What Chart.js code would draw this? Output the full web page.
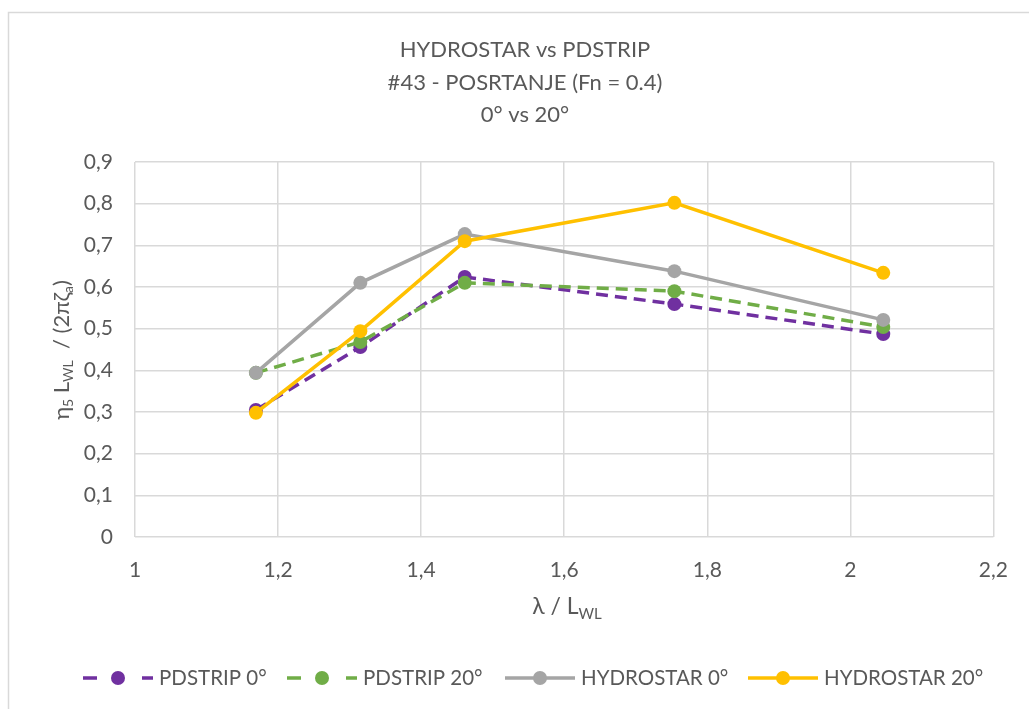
<!DOCTYPE html>
<html lang="hr">
<head>
  <meta charset="UTF-8" />
  <title>HYDROSTAR vs PDSTRIP</title>
  <script src="https://cdn.jsdelivr.net/npm/chart.js"></script>
  <style>
    html, body {
      margin: 0;
      padding: 0;
      background-color: #ffffff;
      width: 100%;
      height: 100%;
    }
    #chart-container {
      position: relative;
      width: 1029px;
      height: 709px;
    }
  </style>
</head>
<body>
  <div id="chart-container">
    <canvas id="rao"></canvas>
  </div>

  <script>
    // lambda / L_WL
    const waveRatio = [1.169, 1.315, 1.461, 1.754, 2.046];

    const pdstrip0 = [0.305, 0.456, 0.624, 0.559, 0.487];
    const pdstrip20 = [0.394, 0.468, 0.610, 0.590, 0.504];
    const hydrostar0 = [0.394, 0.610, 0.727, 0.638, 0.521];
    const hydrostar20 = [0.298, 0.494, 0.710, 0.802, 0.634];

    const seriesNames = ['PDSTRIP 0°', 'PDSTRIP 20°', 'HYDROSTAR 0°', 'HYDROSTAR 20°'];
    const titleLines = ['HYDROSTAR vs PDSTRIP', '#43 - POSRTANJE (Fn = 0.4)', '0° vs 20°'];

    const colors = ['#7030a0', '#70ad47', '#a5a5a5', '#ffc000'];
    const textColor = '#595959';
    const fontName = 'Lato, "Open Sans", sans-serif';

    const toPoints = ys => ys.map((y, i) => ({ x: waveRatio[i], y: y }));
    const commaNum = v => String(Number(v.toFixed(1))).replace('.', ',');

    // text with subscripts: parts = [[text, isSub], ...]
    function subText(ctx, parts, cx, cy, size) {
      const big = size + 'px ' + fontName;
      const small = Math.round(size * 0.65) + 'px ' + fontName;
      let w = 0;
      parts.forEach(p => { ctx.font = p[1] ? small : big; w += ctx.measureText(p[0]).width; });
      let x = cx - w / 2;
      ctx.textAlign = 'left';
      ctx.textBaseline = 'middle';
      parts.forEach(p => {
        ctx.font = p[1] ? small : big;
        ctx.fillText(p[0], x, p[1] ? cy + size * 0.3 : cy);
        x += ctx.measureText(p[0]).width;
      });
    }

    // titles, axis titles, legend and outer frame
    Chart.register({
      id: 'excelDecor',
      afterDraw(chart) {
        const ctx = chart.ctx;
        ctx.save();

        ctx.strokeStyle = '#d9d9d9';
        ctx.lineWidth = 1.5;
        ctx.beginPath();
        ctx.moveTo(8.5, 709);
        ctx.lineTo(8.5, 12.5);
        ctx.lineTo(1029, 12.5);
        ctx.stroke();

        ctx.fillStyle = textColor;
        ctx.textAlign = 'center';
        ctx.textBaseline = 'middle';
        ctx.font = '22px ' + fontName;
        titleLines.forEach((t, i) => ctx.fillText(t, 525, 50 + i * 32.5));

        subText(ctx, [['λ / L', false], ['WL', true]], 567, 607, 23);

        ctx.save();
        ctx.translate(62, 350);
        ctx.rotate(-Math.PI / 2);
        subText(ctx, [['η', false], ['5', true], [' L', false], ['WL', true],
          ['  / (2πζ', false], ['a', true], [')', false]], 0, 0, 22);
        ctx.restore();

        // legend
        const starts = [83, 287, 505, 748];
        const ly = 678;
        ctx.font = '20.5px ' + fontName;
        starts.forEach((x0, i) => {
          ctx.strokeStyle = colors[i];
          ctx.fillStyle = colors[i];
          ctx.lineWidth = 3.5;
          ctx.beginPath();
          if (i < 2) {
            ctx.moveTo(x0, ly); ctx.lineTo(x0 + 14, ly);
            ctx.moveTo(x0 + 59, ly); ctx.lineTo(x0 + 70, ly);
          } else {
            ctx.moveTo(x0, ly); ctx.lineTo(x0 + 70, ly);
          }
          ctx.stroke();
          ctx.beginPath();
          ctx.arc(x0 + 35, ly, 7, 0, Math.PI * 2);
          ctx.fill();
          ctx.fillStyle = textColor;
          ctx.textAlign = 'left';
          ctx.fillText(seriesNames[i], x0 + 76, ly);
        });

        ctx.restore();
      }
    });

    const allSeries = [pdstrip0, pdstrip20, hydrostar0, hydrostar20];

    const datasets = allSeries.map((ys, i) => ({
      label: seriesNames[i],
      data: toPoints(ys),
      showLine: true,
      borderColor: colors[i],
      backgroundColor: colors[i],
      borderWidth: 3.5,
      borderDash: i < 2 ? [12, 7] : [],
      pointRadius: 7,
      pointBorderWidth: 0,
      pointHoverRadius: 7,
      order: 4 - i
    }));

    new Chart(document.getElementById('rao'), {
      type: 'scatter',
      data: { datasets: datasets },
      options: {
        responsive: true,
        maintainAspectRatio: false,
        animation: false,
        events: [],
        layout: { padding: { left: 60, right: 30, top: 162, bottom: 127 } },
        plugins: {
          legend: { display: false },
          title: { display: false },
          tooltip: { enabled: false }
        },
        scales: {
          x: {
            type: 'linear',
            min: 1,
            max: 2.2,
            afterFit: s => { s.height = 45; },
            border: { display: false },
            grid: { color: '#d9d9d9', lineWidth: 1.5, drawTicks: false },
            ticks: {
              stepSize: 0.2,
              padding: 21,
              color: textColor,
              font: { family: fontName, size: 21 },
              callback: v => commaNum(v)
            }
          },
          y: {
            min: 0,
            max: 0.9,
            afterFit: s => { s.width = 75; },
            border: { display: false },
            grid: { color: '#d9d9d9', lineWidth: 1.5, drawTicks: false },
            ticks: {
              stepSize: 0.1,
              padding: 22,
              color: textColor,
              font: { family: fontName, size: 21 },
              callback: v => commaNum(v)
            }
          }
        }
      }
    });
  </script>
</body>
</html>
